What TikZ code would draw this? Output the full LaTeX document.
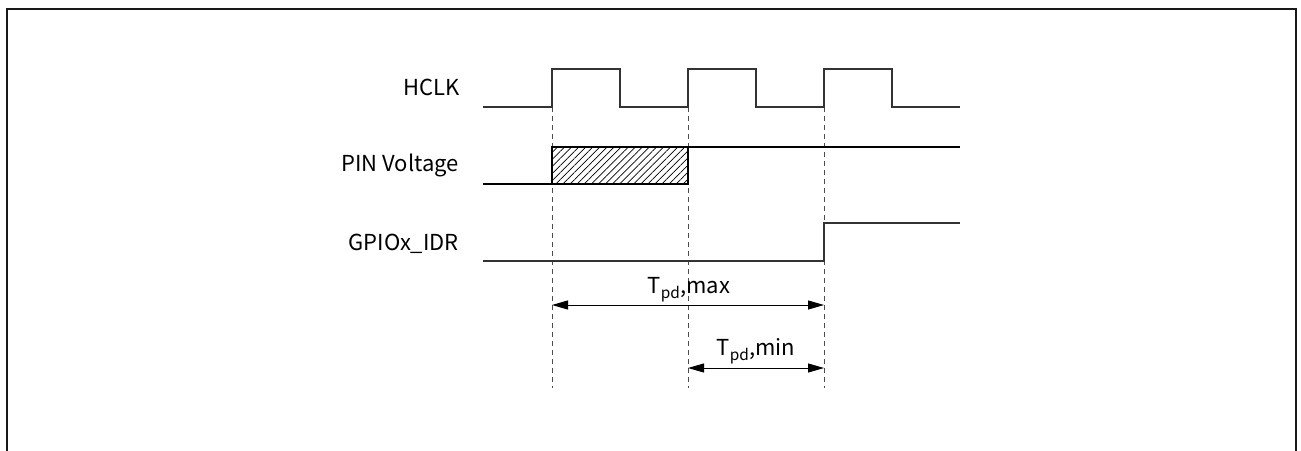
\documentclass[tikz,border=0pt]{standalone}
\usepackage{fontspec}
\setmainfont{Noto Sans CJK SC}
\usetikzlibrary{arrows.meta,patterns.meta}
\begin{document}
\begin{tikzpicture}[x=1pt,y=-1pt,
  sig/.style={line width=1.3pt,draw=black!80},
  guide/.style={line width=1pt,draw=black!70,dash pattern=on 5pt off 4pt},
  dim/.style={line width=1pt,draw=black,{Triangle[length=16pt,width=9pt]}-{Triangle[length=16pt,width=9pt]}},
  lbl/.style={font=\fontsize{22}{26}\selectfont,anchor=base east,inner sep=0pt},
  dimlbl/.style={font=\fontsize{22}{26}\selectfont,anchor=base,inner sep=0pt}]
\useasboundingbox (0,0) rectangle (1301,450);
\fill[white] (0,0) rectangle (1301,450);
% frame
\draw[line width=2pt,draw=black!90] (7,452) -- (7,9) -- (1296,9) -- (1296,452);
% labels
\node[lbl] (hclk) at (460,95) {HCLK};
\node[lbl] (pin) at (459,171) {PIN Voltage};
\node[lbl] (gpio) at (459,250) {GPIOx\_IDR};
% edge coordinates
\coordinate (e1) at (552,107);
\coordinate (e2) at (688,107);
\coordinate (e3) at (824,107);
\coordinate (b1) at (552,388);
\coordinate (b2) at (688,388);
\coordinate (b3) at (824,388);
% guides
\draw[guide] (e1) -- (b1);
\draw[guide] (e2) -- (b2);
\draw[guide] (e3) -- (b3);
% HCLK
\draw[sig,line join=miter] (483,107) -- (552,107) -- (552,69) -- (620,69) -- (620,107) -- (688,107) -- (688,69) -- (756,69) -- (756,107) -- (824,107) -- (824,69) -- (892,69) -- (892,107) -- (960,107);
% PIN voltage
\fill[pattern={Lines[angle=45,distance=5pt,line width=0.7pt]},pattern color=black] (552,147) rectangle (688,184);
\draw[line width=1.3pt,draw=black] (483,184) -- (688,184) -- (688,147);
\draw[line width=1.3pt,draw=black] (552,184) -- (552,147) -- (960,147);
% GPIOx_IDR
\draw[sig,line join=miter] (483,261) -- (824,261) -- (824,223) -- (960,223);
% dimensions
\coordinate (m1) at (552,305);
\coordinate (m2) at (824,305);
\coordinate (n1) at (688,368);
\coordinate (n2) at (824,368);
\draw[dim] (m1) -- (m2);
\draw[dim] (n1) -- (n2);
\node[dimlbl] (tmax) at (689,293) {T\textsubscript{pd},max};
\node[dimlbl] (tmin) at (756,355) {T\textsubscript{pd},min};
\end{tikzpicture}
\end{document}
